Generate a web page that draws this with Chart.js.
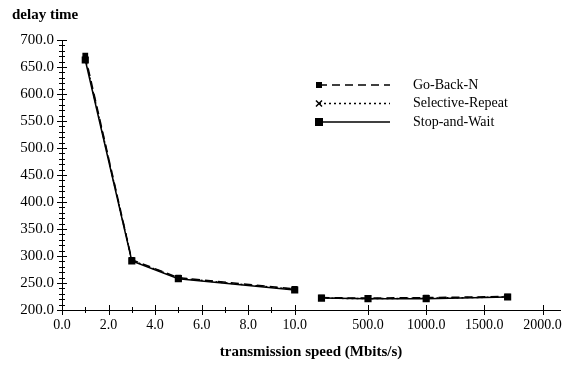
<!DOCTYPE html>
<html>
<head>
<meta charset="utf-8">
<script src="https://cdn.jsdelivr.net/npm/chart.js@4"></script>
<style>
  html, body { margin: 0; padding: 0; background: #fff; }
  #wrap { width: 573px; height: 365px; position: relative; }
</style>
</head>
<body>
<div id="wrap"><canvas id="chart"></canvas></div>
<script>
// transmission speeds (Mbits/s) and delay times
const speeds = [1, 3, 5, 10, 100, 500, 1000, 1700];
const goBackN = [671, 293, 260, 239, 223, 222, 223, 225];
const selectiveRepeat = [667, 292, 259, 238, 222, 221, 222, 224];
const stopAndWait = [663, 291, 258, 237, 222, 221, 221, 224];

const xMajorTicks = [0, 2, 4, 6, 8, 10, 500, 1000, 1500, 2000];
const xMinorTicks = [1, 3, 5, 7, 9];
const yTicks = [200, 250, 300, 350, 400, 450, 500, 550, 600, 650, 700];

// broken x axis: linear 0..10, then a compressed segment for the large speeds
function axisPos(v) {
    return v <= 10 ? v : 10.65 + v / 200;
}

function buildPoints(values) {
    const pts = [];
    speeds.forEach((s, i) => {
        pts.push({ x: axisPos(s), y: values[i] });
        if (s === 10) pts.push({ x: (axisPos(10) + axisPos(100)) / 2, y: null });
    });
    return pts;
}

const labelFor = new Map();
xMajorTicks.forEach(v => labelFor.set(axisPos(v).toFixed(4), v.toFixed(1)));

const serif = '"Liberation Serif", "DejaVu Serif", serif';

// tick marks that cross the axis lines
const crossTicks = {
    id: 'crossTicks',
    afterDraw(chart) {
        const ctx = chart.ctx, xs = chart.scales.x, ys = chart.scales.y;
        const ax = ys.right, ay = xs.top;
        ctx.save();
        ctx.strokeStyle = '#000';
        ctx.lineWidth = 1;
        ctx.beginPath();
        for (let v = 200; v <= 700; v += 10) {
            const y = Math.round(ys.getPixelForValue(v)) + 0.5;
            const h = v % 50 === 0 ? 5 : 3;
            ctx.moveTo(ax - h, y); ctx.lineTo(ax + h, y);
        }
        xMajorTicks.concat(xMinorTicks).forEach(v => {
            const x = Math.round(xs.getPixelForValue(axisPos(v))) + 0.5;
            const h = xMinorTicks.includes(v) ? 3 : 5;
            ctx.moveTo(x, ay - h); ctx.lineTo(x, ay + h);
        });
        ctx.stroke();
        ctx.restore();
    }
};

// legend drawn inside the plot, line sample on the left, name on the right
const inlineLegend = {
    id: 'inlineLegend',
    afterDraw(chart) {
        const ctx = chart.ctx, area = chart.chartArea;
        const x0 = area.left + 257, x1 = area.left + 328, tx = area.left + 351;
        let y = area.top + 45;
        ctx.save();
        chart.data.datasets.forEach(ds => {
            ctx.strokeStyle = '#000';
            ctx.lineWidth = 1.5;
            ctx.setLineDash(ds.borderDash || []);
            ctx.beginPath();
            ctx.moveTo(x0, y); ctx.lineTo(x1, y);
            ctx.stroke();
            ctx.setLineDash([]);
            ctx.fillStyle = '#000';
            if (ds.pointStyle === 'rect') {
                const r = ds.pointRadius;
                ctx.fillRect(x0 - r, y - r, 2 * r, 2 * r);
            } else {
                ctx.beginPath();
                ctx.moveTo(x0 - 3, y - 3); ctx.lineTo(x0 + 3, y + 3);
                ctx.moveTo(x0 - 3, y + 3); ctx.lineTo(x0 + 3, y - 3);
                ctx.stroke();
            }
            ctx.font = '14px ' + serif;
            ctx.textBaseline = 'middle';
            ctx.fillText(ds.label, tx, y);
            y += 18.5;
        });
        ctx.restore();
    }
};

new Chart(document.getElementById('chart'), {
    type: 'line',
    data: {
        datasets: [{
            label: 'Go-Back-N',
            data: buildPoints(goBackN),
            borderColor: '#000',
            backgroundColor: '#000',
            borderWidth: 1.5,
            borderDash: [8, 5],
            pointStyle: 'rect',
            pointRadius: 3
        }, {
            label: 'Selective-Repeat',
            data: buildPoints(selectiveRepeat),
            borderColor: '#000',
            backgroundColor: '#000',
            borderWidth: 1.5,
            borderDash: [2, 3],
            pointStyle: 'crossRot',
            pointRadius: 3
        }, {
            label: 'Stop-and-Wait',
            data: buildPoints(stopAndWait),
            borderColor: '#000',
            backgroundColor: '#000',
            borderWidth: 1.5,
            pointStyle: 'rect',
            pointRadius: 4
        }]
    },
    options: {
        responsive: true,
        maintainAspectRatio: false,
        animation: false,
        spanGaps: false,
        layout: { padding: { left: 12, right: 13, top: 0, bottom: 0 } },
        plugins: {
            legend: { display: false },
            tooltip: { enabled: false },
            title: {
                display: true,
                text: 'delay time',
                align: 'start',
                color: '#000',
                font: { family: serif, size: 15, weight: 'bold' },
                padding: { top: 6, bottom: 16 }
            }
        },
        scales: {
            x: {
                type: 'linear',
                min: 0,
                max: 21.4,
                afterBuildTicks(scale) {
                    scale.ticks = xMajorTicks.concat(xMinorTicks)
                        .map(v => ({ value: axisPos(v) }))
                        .sort((a, b) => a.value - b.value);
                },
                afterFit(scale) { scale.height = 55; },
                grid: { display: false, drawTicks: false },
                border: { display: true, color: '#000', width: 1 },
                ticks: {
                    autoSkip: false,
                    maxRotation: 0,
                    padding: 7,
                    color: '#000',
                    font: { family: serif, size: 14 },
                    callback: v => labelFor.get(Number(v).toFixed(4)) || ''
                },
                title: {
                    display: true,
                    text: 'transmission speed (Mbits/s)',
                    color: '#000',
                    font: { family: serif, size: 15, weight: 'bold' },
                    padding: { top: 0, bottom: 4 }
                }
            },
            y: {
                min: 200,
                max: 700,
                afterBuildTicks(scale) {
                    scale.ticks = yTicks.map(v => ({ value: v }));
                },
                afterFit(scale) { scale.width = 50; },
                grid: { display: false, drawTicks: false },
                border: { display: true, color: '#000', width: 1 },
                ticks: {
                    padding: 8,
                    color: '#000',
                    font: { family: serif, size: 15 },
                    callback: v => Number(v).toFixed(1)
                }
            }
        }
    },
    plugins: [crossTicks, inlineLegend]
});
</script>
</body>
</html>
